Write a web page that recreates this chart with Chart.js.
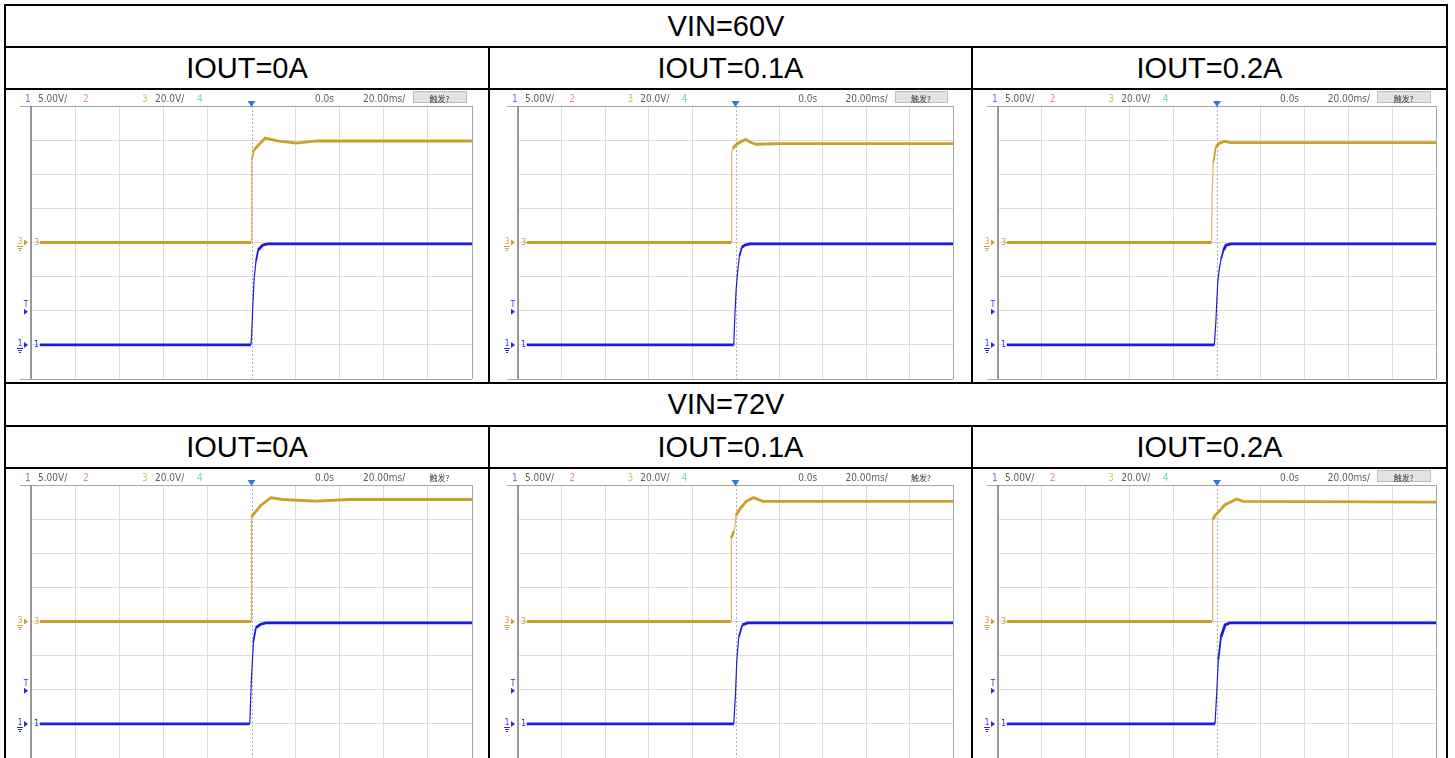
<!DOCTYPE html>
<html>
<head>
<meta charset="utf-8">
<script src="https://cdn.jsdelivr.net/npm/chart.js@4.4.1/dist/chart.umd.min.js"></script>
<style>
  body { margin: 0; background: #fff; width: 1455px; height: 758px; overflow: hidden; position: relative;
         font-family: "Liberation Sans", Arial, sans-serif; }
  .cell { position: absolute; box-sizing: border-box; border: 2px solid #000; background: #fff; overflow: hidden; }
  .title { display: flex; align-items: center; justify-content: center; font-size: 29px; color: #000; }
  .cell canvas { position: absolute; left: 0; top: 0; }
</style>
</head>
<body>
<script>
// ---- text ----
const vinLabels = ['VIN=60V', 'VIN=72V'];
const ioutLabels = ['IOUT=0A', 'IOUT=0.1A', 'IOUT=0.2A'];
const ch1Scale = '5.00V/';
const ch3Scale = '20.0V/';
const delayText = '0.0s';
const timebaseText = '20.00ms/';
const triggerText = '触发?';

// ---- scope settings ----
const timePerDiv = 20;      // ms/div, 10 div across
const ch1VoltsPerDiv = 5;   // CH1 (blue, output)
const ch1GroundDiv = -3;
const ch3VoltsPerDiv = 20;  // CH3 (yellow, input)
const ch3GroundDiv = 0;
const triggerLevel = 5;     // V on CH1

// ---- traces, time in ms, value in V ----
// VIN=60V, IOUT=0A
const t3_60_0 = [-96, -0.1, 0.1, 1.2, 6.2, 11.8, 20.2, 30, 100];
const v3_60_0 = [0, 0, 48.5, 54.4, 61.2, 59.6, 58.3, 59.5, 59.5];
const t1_60_0 = [-96, -0.3, 0, 0.6, 1.2, 2.0, 3.0, 5.0, 7.3, 100];
const v1_60_0 = [0, 0, 1.0, 5.8, 9.7, 12.2, 13.9, 14.6, 14.8, 14.8];
// VIN=60V, IOUT=0.1A
const t3_60_01 = [-96, -2.0, -1.8, -1.2, 0, 1.8, 4.6, 7.2, 9.5, 20, 100];
const v3_60_01 = [0, 0, 52, 55, 57, 58.6, 60.4, 58.6, 57.6, 58, 58];
const t1_60_01 = [-96, -0.8, -0.3, 0.3, 1.1, 1.8, 2.9, 4.2, 6.5, 100];
const v1_60_01 = [0, 0, 4.2, 8.1, 11.1, 13, 14.3, 14.6, 14.8, 14.8];
// VIN=60V, IOUT=0.2A
const t3_60_02 = [-96, -2.5, -2.2, -1.7, -0.5, 1.0, 3.3, 6.4, 100];
const v3_60_02 = [0, 0, 30, 47, 56, 58, 59.3, 58.5, 58.5];
const t1_60_02 = [-96, -1.2, -0.5, 0.3, 1.0, 1.8, 3.0, 4.1, 6.4, 100];
const v1_60_02 = [0, 0, 3.5, 9, 11, 12.5, 13.9, 14.6, 14.8, 14.8];
// VIN=72V, IOUT=0A
const t3_72_0 = [-96, -0.2, 0, 4.2, 8.8, 14, 29, 44, 100];
const v3_72_0 = [0, 0, 61.4, 68, 72.6, 71.5, 70.5, 71.5, 71.5];
const t1_72_0 = [-96, -0.8, 0, 0.9, 2, 4.2, 6.5, 100];
const v1_72_0 = [0, 0, 6.8, 12.1, 14.1, 14.6, 14.8, 14.8];
// VIN=72V, IOUT=0.1A
const t3_72_01 = [-96, -2.0, -1.9, -0.8, -0.3, 0.2, 1.8, 4.9, 8.3, 12.6, 100];
const v3_72_01 = [0, 0, 49, 52.9, 55, 62, 65.6, 70.4, 72.6, 70.4, 70.4];
const t1_72_01 = [-96, -0.8, 0, 0.6, 1.5, 3.1, 5.7, 100];
const v1_72_01 = [0, 0, 4.4, 9.3, 12.7, 14.5, 14.8, 14.8];
// VIN=72V, IOUT=0.2A
const t3_72_02 = [-96, -2.2, -2.0, -0.9, 3.7, 9, 12, 100];
const v3_72_02 = [0, 0, 59.7, 62, 68.5, 71.8, 70.4, 70];
const t1_72_02 = [-96, -0.9, -0.15, 0.6, 1.8, 3.7, 5.9, 100];
const v1_72_02 = [0, 0, 4.4, 9.3, 12.7, 14.5, 14.8, 14.8];

const panels = [
  [t3_60_0, v3_60_0, t1_60_0, v1_60_0],
  [t3_60_01, v3_60_01, t1_60_01, v1_60_01],
  [t3_60_02, v3_60_02, t1_60_02, v1_60_02],
  [t3_72_0, v3_72_0, t1_72_0, v1_72_0],
  [t3_72_01, v3_72_01, t1_72_01, v1_72_01],
  [t3_72_02, v3_72_02, t1_72_02, v1_72_02],
];
const triggerBoxShown = [true, true, true, false, false, true];

// ---- layout ----
const colX = [5, 489, 972, 1447];
const rowY = [5, 47, 89, 383, 426, 468, 762];
const colPad = [
  { left: 25, right: 16 },
  { left: 28, right: 18 },
  { left: 25, right: 10 },
];
const yellow = '#c9a12a';
const yellowEdge = '#d9b866';
const blue = '#1c1ce0';
const gridColor = '#dcdcdc';
const narrowFont = '"Liberation Sans Narrow", "DejaVu Sans Condensed", sans-serif';

function box(x0, y0, x1, y1, cls) {
  const d = document.createElement('div');
  d.className = 'cell' + (cls ? ' ' + cls : '');
  d.style.left = (x0 - 1) + 'px';
  d.style.top = (y0 - 1) + 'px';
  d.style.width = (x1 - x0 + 2) + 'px';
  d.style.height = (y1 - y0 + 2) + 'px';
  document.body.appendChild(d);
  return d;
}

function zip(t, v) {
  return t.map((x, i) => ({ x: x, y: v[i] }));
}

function groundMark(ctx, left, y, color, ch) {
  ctx.fillStyle = color;
  ctx.strokeStyle = color;
  ctx.lineWidth = 1;
  ctx.font = '8px ' + narrowFont;
  ctx.textAlign = 'center';
  ctx.textBaseline = 'middle';
  ctx.fillText(ch, left - 11, y - 1);
  [[3, 3], [5, 2], [7, 1]].forEach(([dy, hw]) => {
    ctx.beginPath();
    ctx.moveTo(left - 11 - hw, Math.round(y + dy) + 0.5);
    ctx.lineTo(left - 11 + hw, Math.round(y + dy) + 0.5);
    ctx.stroke();
  });
  ctx.beginPath();
  ctx.moveTo(left - 7, y - 3);
  ctx.lineTo(left - 3, y);
  ctx.lineTo(left - 7, y + 3);
  ctx.fill();
  ctx.font = '9px ' + narrowFont;
  ctx.textAlign = 'left';
  ctx.fillText(ch, left + 3, y);
}

// draws the scope screen furniture around the plot
const scopeDecor = {
  id: 'scopeDecor',
  beforeDatasetsDraw(chart) {
    const { ctx, chartArea: a, scales } = chart;
    const xc = Math.round(scales.x.getPixelForValue(0)) + 0.5;
    ctx.save();
    ctx.strokeStyle = '#b0b0b0';
    ctx.lineWidth = 1;
    ctx.setLineDash([2, 2]);
    ctx.beginPath();
    ctx.moveTo(xc, a.top);
    ctx.lineTo(xc, a.bottom);
    ctx.stroke();
    ctx.restore();
  },
  afterDraw(chart, args, opts) {
    const { ctx, chartArea: a, scales } = chart;
    const k = a.width / 441;
    ctx.save();

    // frame
    ctx.strokeStyle = '#a6a6a6';
    ctx.lineWidth = 1;
    ctx.beginPath();
    ctx.moveTo(a.left - 11, Math.round(a.top) + 0.5);
    ctx.lineTo(a.right, Math.round(a.top) + 0.5);
    ctx.moveTo(a.left - 11, Math.round(a.bottom) + 0.5);
    ctx.lineTo(a.right, Math.round(a.bottom) + 0.5);
    ctx.moveTo(Math.round(a.right) + 0.5, a.top);
    ctx.lineTo(Math.round(a.right) + 0.5, a.bottom);
    ctx.stroke();
    ctx.strokeStyle = '#7c7c7c';
    ctx.lineWidth = 1.5;
    ctx.beginPath();
    ctx.moveTo(Math.round(a.left), a.top);
    ctx.lineTo(Math.round(a.left), a.bottom);
    ctx.stroke();

    // header line
    const hy = a.top - 7;
    ctx.font = '10px ' + narrowFont;
    ctx.textBaseline = 'middle';
    ctx.textAlign = 'left';
    [
      ['1', -6, '#7373d6'], [ch1Scale, 7, '#5c5c5c'], ['2', 52, '#e07ae0'],
      ['3', 111, '#d8bc6c'], [ch3Scale, 124, '#5c5c5c'], ['4', 166, '#70d8b8'],
      [delayText, 284, '#5c5c5c'], [timebaseText, 332, '#5c5c5c'],
    ].forEach(([txt, dx, col]) => {
      ctx.fillStyle = col;
      ctx.fillText(txt, a.left + dx * k, hy);
    });
    const bx = a.left + 382 * k, bw = 53 * k;
    if (opts.triggerBox) {
      ctx.fillStyle = '#e3e3e3';
      ctx.fillRect(bx, a.top - 15, bw, 12);
      ctx.strokeStyle = '#bdbdbd';
      ctx.lineWidth = 1;
      ctx.strokeRect(Math.round(bx) + 0.5, a.top - 14.5, Math.round(bw), 11);
    }
    ctx.fillStyle = '#3a3a3a';
    ctx.font = '8px "Noto Sans CJK SC", sans-serif';
    ctx.textAlign = 'center';
    ctx.fillText(triggerText, bx + bw / 2, hy);

    // trigger position marker
    const xc = scales.x.getPixelForValue(0);
    ctx.fillStyle = '#2d7ad6';
    ctx.beginPath();
    ctx.moveTo(xc - 4, a.top - 5);
    ctx.lineTo(xc + 4, a.top - 5);
    ctx.lineTo(xc, a.top + 1);
    ctx.fill();

    // channel ground and trigger level markers
    groundMark(ctx, a.left, scales.y3.getPixelForValue(0), '#c9a12a', '3');
    groundMark(ctx, a.left, scales.y1.getPixelForValue(0), '#2a2ae0', '1');
    const ty = scales.y1.getPixelForValue(triggerLevel);
    ctx.fillStyle = '#2a2ae0';
    ctx.font = '8px ' + narrowFont;
    ctx.textAlign = 'center';
    ctx.fillText('T', a.left - 5, ty - 6);
    ctx.beginPath();
    ctx.moveTo(a.left - 7, ty - 2);
    ctx.lineTo(a.left - 3, ty + 1);
    ctx.lineTo(a.left - 7, ty + 4);
    ctx.fill();

    ctx.restore();
  }
};

function traceSegment(thinColor) {
  return {
    borderWidth: c => (Math.abs(c.p1.x - c.p0.x) < 2 ? 1.2 : (Math.abs(c.p1.y - c.p0.y) > 3 * Math.abs(c.p1.x - c.p0.x) ? 1.8 : undefined)),
    borderColor: c => (Math.abs(c.p1.x - c.p0.x) < 2 ? thinColor : undefined),
  };
}

function makeChart(canvas, data, pad, showBox) {
  const [t3, v3, t1, v1] = data;
  return new Chart(canvas, {
    type: 'line',
    data: {
      datasets: [
        { label: 'CH1', data: zip(t1, v1), yAxisID: 'y1', borderColor: blue, borderWidth: 2.8,
          pointRadius: 0, tension: 0, segment: traceSegment(blue) },
        { label: 'CH3', data: zip(t3, v3), yAxisID: 'y3', borderColor: yellow, borderWidth: 2.8,
          pointRadius: 0, tension: 0, segment: traceSegment(yellowEdge) },
      ]
    },
    options: {
      responsive: false,
      animation: false,
      events: [],
      layout: { padding: { left: pad.left, right: pad.right, top: 16, bottom: 3 } },
      plugins: {
        legend: { display: false },
        tooltip: { enabled: false },
        scopeDecor: { triggerBox: showBox },
      },
      scales: {
        x: {
          type: 'linear', min: -5 * timePerDiv, max: 5 * timePerDiv,
          ticks: { stepSize: timePerDiv, display: false },
          grid: { color: c => (c.tick && c.tick.value === 0 ? 'rgba(0,0,0,0)' : gridColor), drawTicks: false },
          border: { display: false },
        },
        y3: {
          type: 'linear', position: 'left',
          min: (-4 - ch3GroundDiv) * ch3VoltsPerDiv, max: (4 - ch3GroundDiv) * ch3VoltsPerDiv,
          ticks: { stepSize: ch3VoltsPerDiv, display: false },
          grid: { color: gridColor, drawTicks: false },
          border: { display: false },
        },
        y1: {
          type: 'linear', position: 'right', display: false,
          min: (-4 - ch1GroundDiv) * ch1VoltsPerDiv, max: (4 - ch1GroundDiv) * ch1VoltsPerDiv,
        },
      }
    },
    plugins: [scopeDecor]
  });
}

// build the table
for (let r = 0; r < 2; r++) {
  const base = r * 3;
  const vin = box(colX[0], rowY[base], colX[3], rowY[base + 1], 'title');
  vin.textContent = vinLabels[r];
  for (let c = 0; c < 3; c++) {
    const io = box(colX[c], rowY[base + 1], colX[c + 1], rowY[base + 2], 'title');
    io.textContent = ioutLabels[c];
    const cell = box(colX[c], rowY[base + 2], colX[c + 1], rowY[base + 3]);
    const cv = document.createElement('canvas');
    cv.width = colX[c + 1] - colX[c] - 2;
    cv.height = rowY[base + 3] - rowY[base + 2] - 2;
    cell.appendChild(cv);
    makeChart(cv, panels[r * 3 + c], colPad[c], triggerBoxShown[r * 3 + c]);
  }
}
</script>
</body>
</html>
